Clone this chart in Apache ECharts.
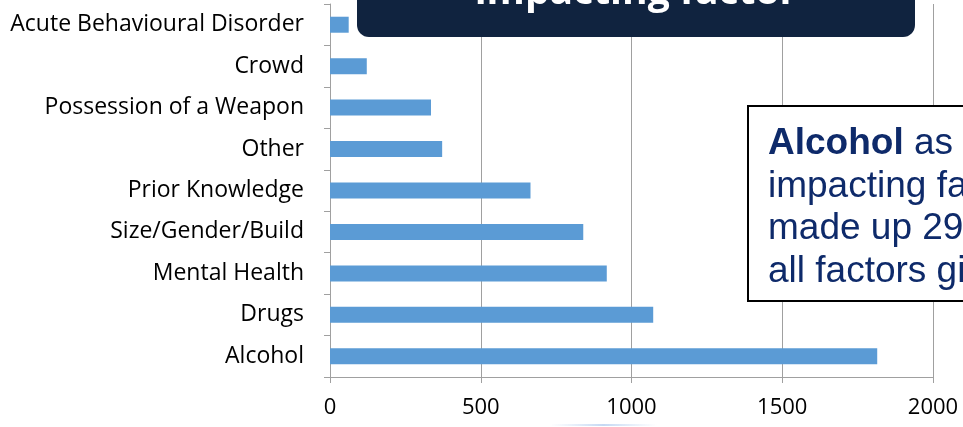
<!DOCTYPE html>
<html><head><meta charset="utf-8">
<script src="https://cdn.jsdelivr.net/npm/echarts@6/dist/echarts.min.js"></script>
<style>html,body{margin:0;padding:0;background:#fff}#c{width:963px;height:427px}</style>
</head><body><div id="c"></div>
<script>
const categories = ["Alcohol","Drugs","Mental Health","Size/Gender/Build","Prior Knowledge","Other","Possession of a Weapon","Crowd","Acute Behavioural Disorder"];
const values = [1815,1072,918,840,665,372,335,122,62];
const xTicks = [0,500,1000,1500,2000];
const titleText = "impacting factor";
const noteBold = "Alcohol";
const noteLines = ["as a", "impacting factor", "made up 29% of", "all factors given"];

const chart = echarts.init(document.getElementById('c'));
chart.setOption({
  animation:false,
  grid:{left:330,top:4,width:603,height:373,containLabel:false},
  xAxis:{type:'value',min:xTicks[0],max:xTicks[xTicks.length-1],interval:500,
    axisLine:{show:true,lineStyle:{color:'#a0a0a0'}},
    axisTick:{show:true,length:6,lineStyle:{color:'#a0a0a0'}},
    splitLine:{show:true,lineStyle:{color:'#a0a0a0'}},
    axisLabel:{color:'#000',fontFamily:'Open Sans',fontSize:22,margin:20,formatter:v=>String(v)}},
  yAxis:{type:'category',data:categories,
    axisLine:{show:true,lineStyle:{color:'#a0a0a0'}},
    axisTick:{show:true,length:6,lineStyle:{color:'#a0a0a0'}},
    axisLabel:{color:'#000',fontFamily:'Open Sans',fontSize:23,margin:26}},
  series:[{type:'bar',data:values,barWidth:16,itemStyle:{color:'#5b9bd5'}}],
  graphic:[
    {type:'rect',shape:{x:357,y:-20,width:558,height:57,r:12},style:{fill:'#10233f'},z:100},
    {type:'text',x:636,y:12,style:{text:titleText,fill:'#fff',font:'bold 39px "Open Sans"',textAlign:'center',textVerticalAlign:'bottom'},z:101},
    {type:'rect',shape:{x:748,y:106,width:260,height:195},style:{fill:'#fff',stroke:'#000',lineWidth:2},z:100},
    {type:'text',x:768,y:123,style:{
      text:'{b|'+noteBold+'}{n| '+noteLines[0]+'}\n{n|'+noteLines[1]+'}\n{n|'+noteLines[2]+'}\n{n|'+noteLines[3]+'}',
      rich:{
        b:{fontWeight:'bold',fontSize:37,fontFamily:'Liberation Sans',fill:'#0e2a6a',lineHeight:42.5},
        n:{fontSize:37,fontFamily:'Liberation Sans',fill:'#0e2a6a',lineHeight:42.5}},
      fill:'#0e2a6a',fontSize:37,fontFamily:'Liberation Sans',lineHeight:42.5},z:101},
    {type:'rect',shape:{x:550,y:424,width:107,height:2},style:{fill:{type:'linear',x:0,y:0,x2:1,y2:0,colorStops:[{offset:0,color:'rgba(200,220,245,0)'},{offset:0.5,color:'rgba(190,212,242,0.9)'},{offset:1,color:'rgba(200,220,245,0)'}]}},z:100}
  ]
});
</script></body></html>
